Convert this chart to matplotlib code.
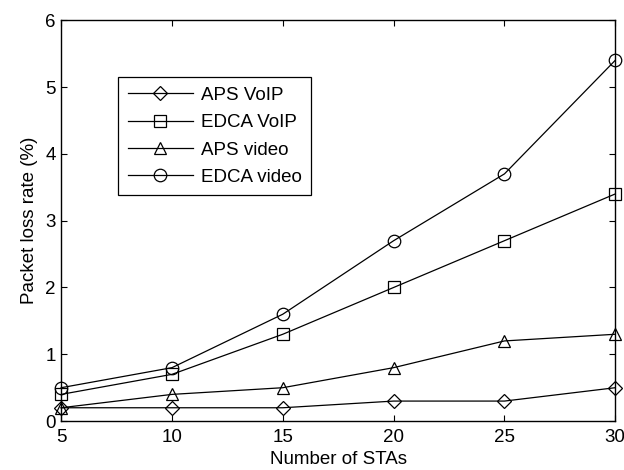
import matplotlib
matplotlib.use("Agg")
import matplotlib.pyplot as plt

plt.rcParams['font.family'] = ['Liberation Sans', 'DejaVu Sans']

# data
stas = [5, 10, 15, 20, 25, 30]
aps_voip = [0.2, 0.2, 0.2, 0.3, 0.3, 0.5]
edca_voip = [0.4, 0.7, 1.3, 2.0, 2.7, 3.4]
aps_video = [0.2, 0.4, 0.5, 0.8, 1.2, 1.3]
edca_video = [0.5, 0.8, 1.6, 2.7, 3.7, 5.4]

fig = plt.figure(figsize=(6.24, 4.70), dpi=100)
ax = fig.add_axes([0.098, 0.104, 0.888, 0.853])

style = dict(color='black', linewidth=0.9, markerfacecolor='none',
             markeredgecolor='black', markeredgewidth=0.9, clip_on=False)
ax.plot(stas, aps_voip, marker='D', markersize=7, label='APS VoIP', **style)
ax.plot(stas, edca_voip, marker='s', markersize=8, label='EDCA VoIP', **style)
ax.plot(stas, aps_video, marker='^', markersize=9, label='APS video', **style)
ax.plot(stas, edca_video, marker='o', markersize=9, label='EDCA video', **style)

ax.set_xlim(5, 30)
ax.set_ylim(0, 6)
ax.set_xticks(stas)
ax.set_yticks(range(0, 7))
ax.tick_params(direction='in', top=True, right=True, labelsize=13.5, length=4)
ax.tick_params(axis='x', pad=6)
ax.tick_params(axis='y', pad=4)
for s in ax.spines.values():
    s.set_linewidth(1.0)

ax.set_xlabel('Number of STAs', fontsize=13.5, labelpad=3)
ax.set_ylabel('Packet loss rate (%)', fontsize=13.5, labelpad=5)

leg = ax.legend(loc='upper left', bbox_to_anchor=(0.103, 0.858), fontsize=13.5,
                fancybox=False, framealpha=1, edgecolor='black', handlelength=3.5,
                borderaxespad=0, labelspacing=0.55, borderpad=0.5, handletextpad=0.4)
leg.get_frame().set_linewidth(0.9)

fig.savefig('out.png', dpi=100)
